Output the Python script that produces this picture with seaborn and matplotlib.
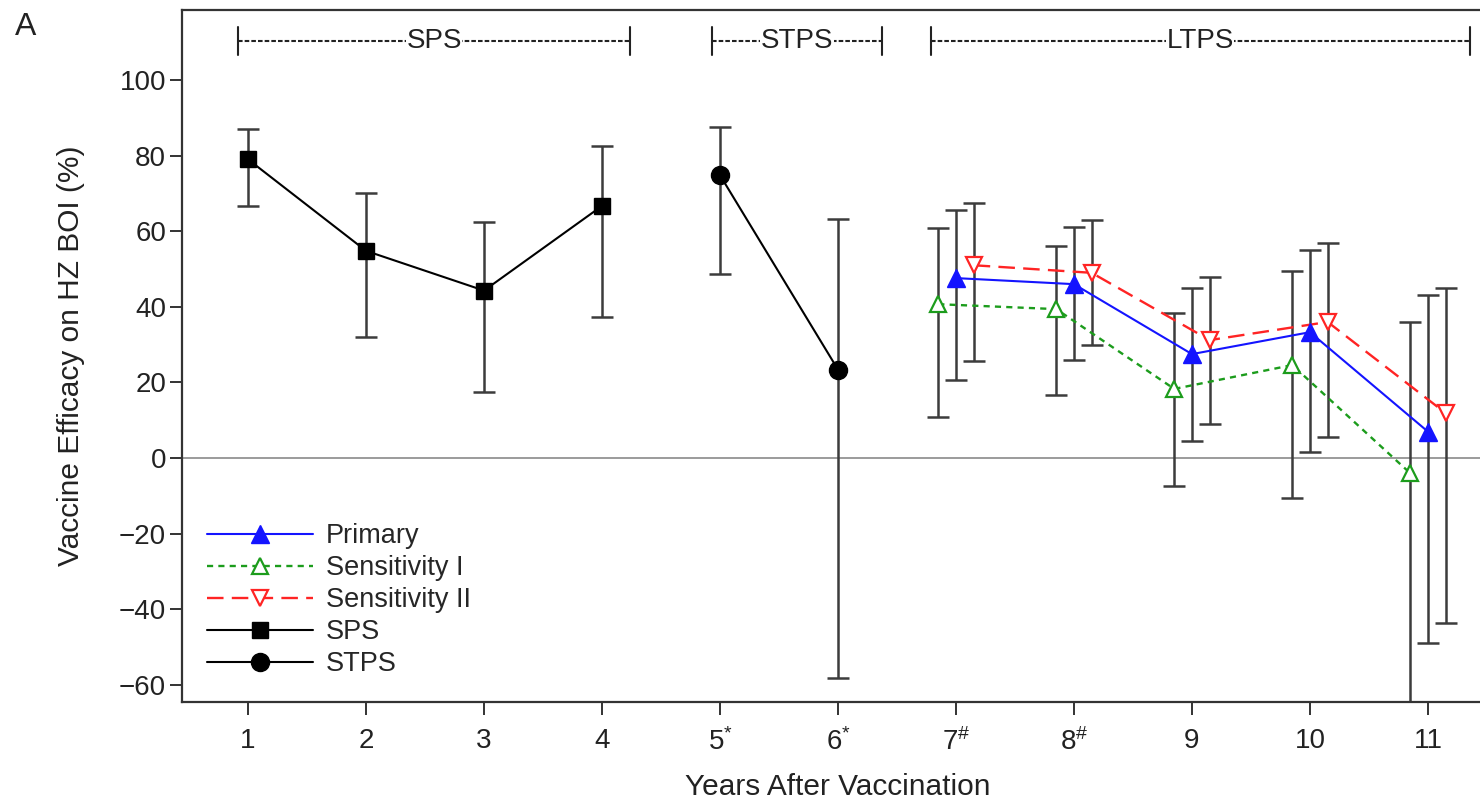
import matplotlib
matplotlib.use("Agg")
import matplotlib.pyplot as plt
import pandas as pd
import seaborn as sns
from matplotlib.lines import Line2D

# ---- data -------------------------------------------------------------
years = [1, 2, 3, 4, 5, 6, 7, 8, 9, 10, 11]
year_labels = ["1", "2", "3", "4", r"5$^{*}$", r"6$^{*}$", r"7$^{\#}$",
               r"8$^{\#}$", "9", "10", "11"]

sps_years = [1, 2, 3, 4]
sps_ve = [79, 54.8, 44.3, 66.7]
sps_lo = [66.7, 32, 17.4, 37.4]
sps_hi = [87, 70, 62.4, 82.5]

stps_years = [5, 6]
stps_ve = [74.8, 23.4]
stps_lo = [48.7, -58.2]
stps_hi = [87.6, 63.1]

ltps_years = [7, 8, 9, 10, 11]
primary_ve = [47.6, 46, 27.5, 33.3, 7]
primary_lo = [20.6, 26, 4.5, 1.6, -49]
primary_hi = [65.6, 61, 45, 55, 43]

sens1_ve = [40.7, 39.4, 18.3, 24.6, -4]
sens1_lo = [10.8, 16.7, -7.4, -10.6, -90]
sens1_hi = [60.8, 56, 38.4, 49.5, 36]

sens2_ve = [51, 49, 31.2, 36, 11.9]
sens2_lo = [25.7, 30, 9, 5.6, -43.7]
sens2_hi = [67.5, 63, 47.9, 56.9, 45]

periods = ["SPS", "STPS", "LTPS"]
period_spans = [(0.915, 4.237), (4.932, 6.373), (6.788, 11.356)]

# ---- style ------------------------------------------------------------
sns.set_theme(style="ticks")
plt.rcParams["font.family"] = ["Liberation Sans", "DejaVu Sans"]
plt.rcParams["mathtext.fontset"] = "custom"
plt.rcParams["mathtext.rm"] = "Liberation Sans"
plt.rcParams["mathtext.it"] = "Liberation Sans:italic"
plt.rcParams["mathtext.bf"] = "Liberation Sans:bold"

FS = 20
TXT = "#222222"
EDGE = "#333333"
ERR = "#3c3c3c"
BLUE = "#1414ff"
GREEN = "#1c9c1c"
RED = "#ff2424"

fig = plt.figure(figsize=(14.8, 7.98), dpi=100)
ax = fig.add_axes([182 / 1480, 96 / 798, 1312 / 1480, 692 / 798])

ax.set_xlim(0.44, 11.56)
ax.set_ylim(-64.5, 118.5)

ax.axhline(0, color="#8a8a8a", lw=1.2, zorder=1)


def draw_errors(x, lo, hi):
    y_mid = [(a + b) / 2 for a, b in zip(lo, hi)]
    half = [(b - a) / 2 for a, b in zip(lo, hi)]
    ax.errorbar(x, y_mid, yerr=half, fmt="none", ecolor=ERR, elinewidth=1.8,
                capsize=8, capthick=1.8, zorder=2)


off = 0.15
x_s1 = [y - off for y in ltps_years]
x_pr = list(ltps_years)
x_s2 = [y + off for y in ltps_years]

draw_errors(sps_years, sps_lo, sps_hi)
draw_errors(stps_years, stps_lo, stps_hi)
draw_errors(x_s1, sens1_lo, sens1_hi)
draw_errors(x_pr, primary_lo, primary_hi)
draw_errors(x_s2, sens2_lo, sens2_hi)

sens1_style = dict(color=GREEN, linestyle=(0, (2.6, 2.2)), linewidth=1.7,
                   marker="^", markersize=12, markerfacecolor="white",
                   markeredgecolor=GREEN, markeredgewidth=1.6)
sens2_style = dict(color=RED, linestyle=(0, (7, 3.5)), linewidth=1.7,
                   marker="v", markersize=12, markerfacecolor="white",
                   markeredgecolor=RED, markeredgewidth=1.6)
primary_style = dict(color=BLUE, linestyle="-", linewidth=1.5,
                     marker="^", markersize=13, markerfacecolor=BLUE,
                     markeredgecolor=BLUE, markeredgewidth=1)
sps_style = dict(color="black", linestyle="-", linewidth=1.5,
                 marker="s", markersize=12, markerfacecolor="black",
                 markeredgecolor="black", markeredgewidth=1)
stps_style = dict(color="black", linestyle="-", linewidth=1.5,
                  marker="o", markersize=13, markerfacecolor="black",
                  markeredgecolor="black", markeredgewidth=1)

series = [
    (x_s1, sens1_ve, sens1_style),
    (x_s2, sens2_ve, sens2_style),
    (x_pr, primary_ve, primary_style),
    (sps_years, sps_ve, sps_style),
    (stps_years, stps_ve, stps_style),
]
for xs, ys, st in series:
    df = pd.DataFrame({"x": xs, "y": ys})
    sns.lineplot(data=df, x="x", y="y", ax=ax, estimator=None, sort=False,
                 legend=False, zorder=3, **st)

# period brackets along the top
yb = 110.3
for name, (a, b) in zip(periods, period_spans):
    ax.plot([a, b], [yb, yb], color=TXT, lw=1.5,
            linestyle=(0, (2.2, 1.0)), zorder=2, solid_capstyle="butt")
    for e in (a, b):
        ax.plot([e, e], [yb - 3.6, yb + 3.6], color=TXT, lw=1.5, zorder=2)
    ax.text((a + b) / 2, yb, name, ha="center", va="center", fontsize=FS,
            color=TXT, zorder=4,
            bbox=dict(facecolor="white", edgecolor="none", pad=0.2))

ax.set_xticks(years)
ax.set_xticklabels(year_labels)
ax.set_yticks(range(-60, 101, 20))
ax.tick_params(axis="both", direction="out", length=9, width=1.4,
               color=EDGE, labelsize=FS, labelcolor=TXT)
ax.tick_params(axis="x", pad=10)
ax.tick_params(axis="y", pad=2.5)
for s in ax.spines.values():
    s.set_color(EDGE)
    s.set_linewidth(1.6)
    s.set_visible(True)

ax.set_xlabel("Years After Vaccination", fontsize=21.5, color=TXT, labelpad=12)
ax.set_ylabel("Vaccine Efficacy on HZ BOI (%)", fontsize=21.5, color=TXT,
              labelpad=24)

handles = [
    Line2D([], [], **primary_style),
    Line2D([], [], **sens1_style),
    Line2D([], [], **sens2_style),
    Line2D([], [], **sps_style),
    Line2D([], [], **stps_style),
]
labels = ["Primary", "Sensitivity I", "Sensitivity II", "SPS", "STPS"]
ax.legend(handles, labels, loc="lower left",
          bbox_to_anchor=(25 / 1312, 25 / 692), frameon=False, fontsize=19.5,
          handlelength=3.9, handletextpad=0.5, labelspacing=0.22,
          borderpad=0, borderaxespad=0)

fig.text(0.010, 0.985, "A", fontsize=23, ha="left", va="top", color=TXT)

fig.savefig("out.png", dpi=100, facecolor="white")
